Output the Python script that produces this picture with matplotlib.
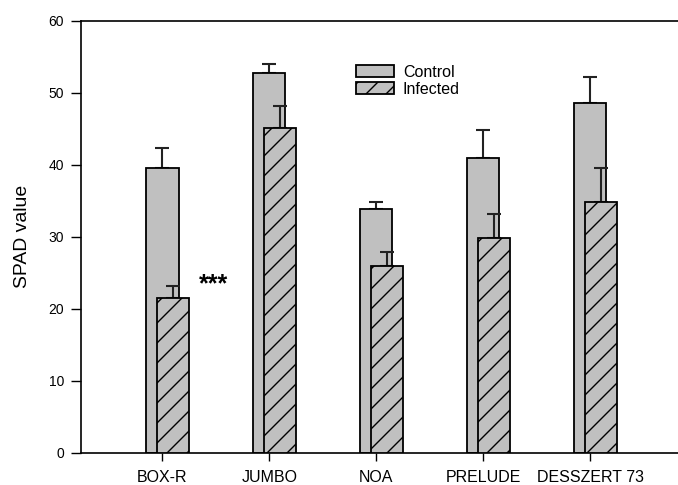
import matplotlib
matplotlib.use("Agg")
import matplotlib.pyplot as plt
import numpy as np

# figure drawn at 120 dpi so the '//' hatch gets the 20 px spacing of the original;
# all sizes below were tuned in points at 100 dpi, k converts them
DPI = 120
k = 100 / DPI

plt.rcParams['font.family'] = ['Liberation Sans', 'DejaVu Sans']
plt.rcParams['hatch.linewidth'] = 1.0 * k

cultivars = ['BOX-R', 'JUMBO', 'NOA', 'PRELUDE', 'DESSZERT 73']
control = [39.6, 52.7, 33.9, 41.0, 48.6]
control_err = [2.8, 1.3, 1.0, 3.9, 3.6]
infected = [21.5, 45.1, 26.0, 29.9, 34.9]
infected_err = [1.7, 3.1, 1.9, 3.3, 4.7]

x = np.arange(len(cultivars))
w = 0.30

fig = plt.figure(figsize=(678 / DPI, 485 / DPI), dpi=DPI)
ax = fig.add_axes([0.119, 0.066, 0.881, 0.891])

ax.bar(x, control, w, color='#c0c0c0', edgecolor='black', linewidth=1.3 * k,
       label='Control', zorder=2)
ax.errorbar(x, control, yerr=[np.zeros(5), control_err], fmt='none',
            ecolor='#222222', elinewidth=1.5 * k, capsize=4.7 * k, capthick=1.5 * k, zorder=1)
ax.bar(x + 0.10, infected, w, color='#c0c0c0', edgecolor='black', linewidth=1.3 * k,
       hatch='//', label='Infected', zorder=3)
ax.errorbar(x + 0.10, infected, yerr=[np.zeros(5), infected_err], fmt='none',
            ecolor='#222222', elinewidth=1.5 * k, capsize=4.7 * k, capthick=1.5 * k, zorder=2.5)

ax.text(0.48, 22.4, '***', fontsize=18 * k, fontweight='bold', ha='center', va='baseline')

ax.set_xlim(-0.765, 4.82)
ax.set_ylim(0, 60)
ax.set_yticks(range(0, 61, 10))
ax.set_xticks(x)
ax.set_xticklabels(cultivars, fontsize=11.5 * k)
ax.tick_params(axis='y', labelsize=10 * k, direction='out', length=7 * k, width=1 * k, pad=5 * k)
ax.tick_params(axis='x', direction='out', length=6 * k, width=1 * k, pad=6.5 * k)
ax.set_ylabel('SPAD value', fontsize=14 * k)
ax.yaxis.set_label_coords(-0.083, 0.5)
ax.spines['right'].set_visible(False)
for s in ['left', 'bottom', 'top']:
    ax.spines[s].set_linewidth(1.2 * k)

ax.legend(loc='upper left', bbox_to_anchor=(355.7 / 678, 0.867), bbox_transform=fig.transFigure,
          frameon=False, fontsize=11.5 * k, handlelength=2.4, handleheight=0.75,
          handletextpad=0.56, labelspacing=0.13, borderpad=0, borderaxespad=0)

fig.savefig('out.png', dpi=DPI)
